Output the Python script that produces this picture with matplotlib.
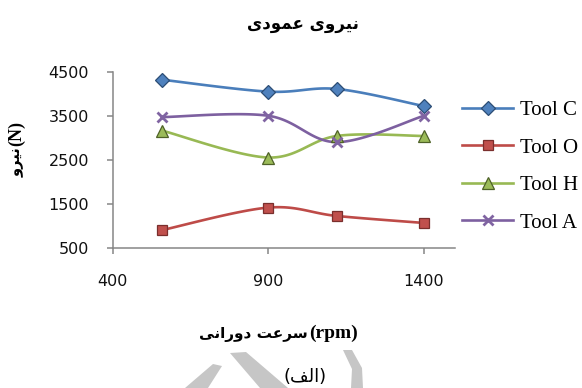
import numpy as np
import matplotlib
matplotlib.use('Agg')
import matplotlib.pyplot as plt
from matplotlib.lines import Line2D
from matplotlib.patches import Polygon

# measured normal force per tool at each spindle speed
rpm = [560, 900, 1120, 1400]
tool_c = [4330, 4060, 4120, 3730]
tool_o = [910, 1420, 1230, 1070]
tool_h = [3170, 2560, 3050, 3050]
tool_a = [3480, 3510, 2910, 3510]
tool_names = ['Tool C', 'Tool O', 'Tool H', 'Tool A']
y_ticks = [500, 1500, 2500, 3500, 4500]
x_ticks = [400, 900, 1400]

# arabic presentation forms: isolated, final, initial, medial
FORMS = {
    'ا': (0xFE8D, 0xFE8E, None, None),
    'ت': (0xFE95, 0xFE96, 0xFE97, 0xFE98),
    'د': (0xFEA9, 0xFEAA, None, None),
    'ر': (0xFEAD, 0xFEAE, None, None),
    'س': (0xFEB1, 0xFEB2, 0xFEB3, 0xFEB4),
    'ع': (0xFEC9, 0xFECA, 0xFECB, 0xFECC),
    'ف': (0xFED1, 0xFED2, 0xFED3, 0xFED4),
    'ل': (0xFEDD, 0xFEDE, 0xFEDF, 0xFEE0),
    'م': (0xFEE1, 0xFEE2, 0xFEE3, 0xFEE4),
    'ن': (0xFEE5, 0xFEE6, 0xFEE7, 0xFEE8),
    'و': (0xFEED, 0xFEEE, None, None),
    'ی': (0xFEEF, 0xFEF0, 0xFEF3, 0xFEF4),
}


def farsi(text):
    # join letters and flip to visual order
    out = []
    for i, ch in enumerate(text):
        if ch not in FORMS:
            out.append(ch)
            continue
        prev = text[i - 1] if i > 0 else ''
        nxt = text[i + 1] if i + 1 < len(text) else ''
        after = prev in FORMS and FORMS[prev][2] is not None
        before = FORMS[ch][2] is not None and nxt in FORMS
        iso, fin, ini, med = FORMS[ch]
        if after and before:
            code = med
        elif before:
            code = ini
        elif after:
            code = fin
        else:
            code = iso
        out.append(chr(code))
    return ''.join(reversed(out))


def smooth(x, y, n=40):
    # excel style smoothed line (catmull-rom bezier)
    x = np.asarray(x, float)
    y = np.asarray(y, float)
    px = np.concatenate([[x[0]], x, [x[-1]]])
    py = np.concatenate([[y[0]], y, [y[-1]]])
    t = np.linspace(0, 1, n)[:, None]
    segs = []
    for i in range(len(x) - 1):
        p0 = np.array([px[i], py[i]])
        p1 = np.array([px[i + 1], py[i + 1]])
        p2 = np.array([px[i + 2], py[i + 2]])
        p3 = np.array([px[i + 3], py[i + 3]])
        c1 = p1 + (p2 - p0) / 6
        c2 = p2 - (p3 - p1) / 6
        b = ((1 - t) ** 3) * p1 + 3 * ((1 - t) ** 2) * t * c1 + 3 * (1 - t) * t ** 2 * c2 + t ** 3 * p2
        segs.append(b)
    pts = np.vstack(segs)
    return pts[:, 0], pts[:, 1]


fig = plt.figure(figsize=(5.82, 3.88), dpi=100)
ax = fig.add_axes([0.1936, 0.3608, 0.5882, 0.4529])

styles = [
    (tool_c, '#4A7EBB', 'D', '#4F81BD', '#2C4D75', 7),
    (tool_o, '#BE4B48', 's', '#C0504D', '#7A2F2D', 7),
    (tool_h, '#98B954', '^', '#9BBB59', '#4F6228', 8),
    (tool_a, '#7D60A0', 'x', '#8064A2', '#8064A2', 7),
]

handles = []
for (vals, lc, mk, fc, ec, ms), name in zip(styles, tool_names):
    sx, sy = smooth(rpm, vals)
    ax.plot(sx, sy, color=lc, lw=1.9, solid_capstyle='round', zorder=2)
    mew = 2.0 if mk == 'x' else 0.9
    ax.plot(rpm, vals, linestyle='none', marker=mk, ms=ms, mfc=fc, mec=ec,
            mew=mew, zorder=3)
    handles.append(Line2D([], [], color=lc, lw=1.9, marker=mk, ms=ms,
                          mfc=fc, mec=ec, mew=mew, label=name))

ax.set_xlim(400, 1500)
ax.set_ylim(500, 4500)
ax.set_xticks(x_ticks)
ax.set_yticks(y_ticks)
for s in ['top', 'right']:
    ax.spines[s].set_visible(False)
for s in ['left', 'bottom']:
    ax.spines[s].set_color('#868686')
    ax.spines[s].set_linewidth(1.1)
ax.tick_params(axis='both', direction='out', length=4, width=1.1, color='#868686',
               labelsize=11.5, labelcolor='#111111')
ax.tick_params(axis='y', pad=13)
ax.tick_params(axis='x', pad=15)
for lab in ax.get_xticklabels() + ax.get_yticklabels():
    lab.set_family('DejaVu Sans')

ax.legend(handles=handles, loc='upper left', bbox_to_anchor=(462 / 582, 1 - 100.5 / 388),
          bbox_transform=fig.transFigure, frameon=False, borderpad=0, borderaxespad=0,
          handlelength=2.45, handletextpad=0.35, labelspacing=0.86,
          prop={'family': 'Liberation Serif', 'size': 15})

fig.text(303 / 582, 1 - 24 / 388, farsi('نیروی عمودی'), ha='center', va='center',
         fontsize=12, fontweight='bold', family='DejaVu Sans')

# y axis title: unit below the word once rotated
fig.text(17 / 582, 1 - 146 / 388, '(N)', ha='center', va='bottom', rotation=90,
         fontsize=13, fontweight='bold', family='Liberation Serif')
fig.text(17 / 582, 1 - 147 / 388, farsi('نیرو'), ha='center', va='top', rotation=90,
         fontsize=10.5, fontweight='bold', family='DejaVu Sans')

# x axis title: word on the left, unit on the right
fig.text(308 / 582, 1 - 334 / 388, farsi('سرعت دورانی'), ha='right', va='center',
         fontsize=11, fontweight='bold', family='DejaVu Sans')
fig.text(309 / 582, 1 - 333 / 388, '(rpm)', ha='left', va='center',
         fontsize=14, fontweight='bold', family='Liberation Serif')

# faint logo at the bottom edge
for pts in [
    [(213, 364), (222, 366), (208, 388), (185, 388)],
    [(230, 353), (246, 352), (288, 388), (260, 388)],
    [(343, 350), (352, 350), (362, 368), (363, 388), (351, 388), (352, 369)],
]:
    poly = [(px / 582, 1 - py / 388) for px, py in pts]
    fig.add_artist(Polygon(poly, closed=True, transform=fig.transFigure,
                           facecolor='#c6c6c6', edgecolor='none', zorder=0))

fig.text(305 / 582, 1 - 377 / 388, '(' + farsi('الف') + ')', ha='center', va='center',
         fontsize=13, family='DejaVu Sans', zorder=5)

fig.savefig('out.png', dpi=100)
